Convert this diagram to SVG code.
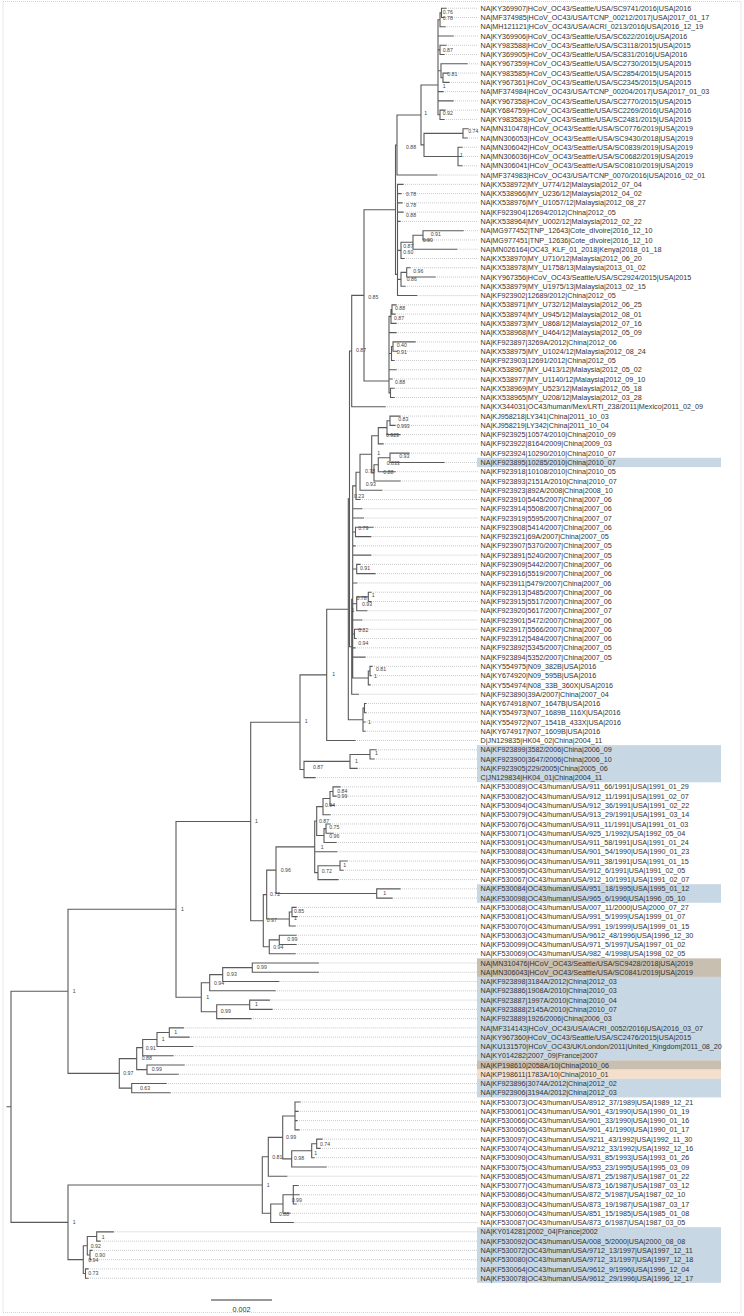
<svg xmlns="http://www.w3.org/2000/svg" width="744" height="1316" viewBox="0 0 744 1316">
<style>
.b{fill:none;stroke:#5a5a5a;stroke-width:1.1;stroke-linecap:square}
.d{fill:none;stroke:#b4b4b4;stroke-width:0.7;stroke-dasharray:1 1}
.t{font-family:"Liberation Sans",Arial,sans-serif;font-size:7.2px;fill:#333}
.s{font-family:"Liberation Sans",Arial,sans-serif;font-size:5.2px;fill:#444}
.hb{fill:#c7d7e3}.hr{fill:#c8bfb1}.hp{fill:#f3dfcc}
</style>
<rect x="3" y="1.5" width="738" height="1311" fill="#fff" stroke="#c8c8c8" stroke-width="0.8" stroke-dasharray="1 1"/>
<g id="highlights">
<rect class="hb" x="477" y="457.8" width="244" height="9.27"/>
<rect class="hb" x="477" y="745.17" width="244" height="37.08"/>
<rect class="hb" x="477" y="884.22" width="244" height="18.54"/>
<rect class="hr" x="477" y="958.38" width="244" height="18.54"/>
<rect class="hb" x="477" y="976.92" width="244" height="83.43"/>
<rect class="hr" x="477" y="1060.35" width="244" height="9.27"/>
<rect class="hp" x="477" y="1069.62" width="244" height="9.27"/>
<rect class="hb" x="477" y="1078.89" width="244" height="18.54"/>
<rect class="hb" x="477" y="1227.21" width="244" height="55.62"/>
</g>
<g id="connectors">
<path class="d" d="M446 8.2H478M444 17.47H478M445 26.74H478M453 36.01H478M446 45.28H478M444 54.55H478M467 63.82H478M448 73.09H478M449 82.36H478M443 91.63H478M453 100.9H478M445 110.17H478M444 119.44H478M468 128.71H478M467 137.98H478M462 147.25H478M461 156.52H478M462 165.79H478M436.7 175.06H478M403 184.33H478M401 193.6H478M402 202.87H478M403 212.14H478M400 221.41H478M463 230.68H478M430 239.95H478M456.7 249.22H478M404 258.49H478M410 267.76H478M435 277.03H478M405 286.3H478M416.7 295.57H478M396 304.84H478M395 314.11H478M396 323.38H478M396 332.65H478M415 341.92H478M397 351.19H478M394 360.46H478M396 369.73H478M392 379H478M394 388.27H478M394 397.54H478M385 406.81H478M400 416.08H478M395 425.35H478M400 434.62H478M383 443.89H478M409 453.16H478M444 462.43H478M395 471.7H478M400 480.97H478M381.7 490.24H478M360 499.51H478M361.7 508.78H478M363.3 518.05H478M373 527.32H478M370.7 536.59H478M355 545.86H478M370.7 555.13H478M360 564.4H478M375 573.67H478M356.7 582.94H478M371 592.21H478M371 601.48H478M366.7 610.75H478M361.7 620.02H478M361.7 629.29H478M356 638.56H478M355 647.83H478M365 657.1H478M372 666.37H478M371 675.64H478M370 684.91H478M358.3 694.18H478M366 703.45H478M366 712.72H478M365 721.99H478M365 731.26H478M355 740.53H478M376 749.8H478M374 759.07H478M357 768.34H478M315 777.61H478M340 786.88H478M336 796.15H478M334 805.42H478M330 814.69H478M330 823.96H478M333 833.23H478M336 842.5H478M336.7 851.77H478M347 861.04H478M343 870.31H478M338 879.58H478M400 888.85H478M392 898.12H478M296 907.39H478M297 916.66H478M295 925.93H478M296 935.2H478M296 944.47H478M295 953.74H478M318.3 963.01H478M318.3 972.28H478M278.7 981.55H478M275 990.82H478M269.3 1000.09H478M272 1009.36H478M251 1018.63H478M183.3 1027.9H478M189 1037.17H478M192.7 1046.44H478M173 1055.71H478M184 1064.98H478M178 1074.25H478M166 1083.52H478M170 1092.79H478M300 1102.06H478M298 1111.33H478M297 1120.6H478M299 1129.87H478M322 1139.14H478M320 1148.41H478M314 1157.68H478M326 1166.95H478M286.7 1176.22H478M298 1185.49H478M299 1194.76H478M296 1204.03H478M290 1213.3H478M293.3 1222.57H478M113.3 1231.84H478M100 1241.11H478M92 1250.38H478M91 1259.65H478M88 1268.92H478M88 1278.19H478"/>
<path class="b" d="M7 1106.8H11M11 991.3V1222.36M11 991.3H68M11 1222.36H68
M68 909.3V1073.39M68 909.3H176M68 1073.39H119.3
M68 1185.06V1259.65M68 1185.06H262.3M68 1259.65H83.3
M262.3 1156.81V1213.3M262.3 1156.81H268.3M262.3 1213.3H270.7
M268.3 1137.4V1176.22M268.3 1137.4H282.7M268.3 1176.22H286.7
M282.7 1115.97V1158.84M282.7 1115.97H295M282.7 1158.84H291.7
M295 1102.06V1129.87M295 1102.06H300M295 1111.33H298M295 1120.6H297M295 1129.87H299
M291.7 1150.73V1166.95M291.7 1150.73H311.7M291.7 1166.95H326
M311.7 1143.78V1157.68M311.7 1143.78H316.7M311.7 1157.68H314
M316.7 1139.14V1148.41M316.7 1139.14H322M316.7 1148.41H320
M270.7 1204.03V1222.57M270.7 1204.03H283M270.7 1222.57H293.3
M283 1194.76V1213.3M283 1194.76H293.3M283 1213.3H290
M293.3 1185.49V1204.03M293.3 1185.49H298M293.3 1194.76H299M293.3 1204.03H296
M83.3 1245.74V1273.56M83.3 1245.74H87.3M83.3 1273.56H85.5
M87.3 1236.48V1255M87.3 1236.48H96.7M87.3 1255H90
M96.7 1231.84V1241.11M96.7 1231.84H113.3M96.7 1241.11H100
M90 1250.38V1259.65M90 1250.38H92M90 1259.65H91
M85.5 1268.92V1278.19M85.5 1268.92H88M85.5 1278.19H88
M119.3 1058.61V1088.16M119.3 1058.61H136.7M119.3 1088.16H131.7
M131.7 1083.52V1092.79M131.7 1083.52H166M131.7 1092.79H170
M136.7 1047.6V1069.62M136.7 1047.6H142.7M136.7 1069.62H147
M147 1064.98V1074.25M147 1064.98H184M147 1074.25H178
M142.7 1039.49V1055.71M142.7 1039.49H157M142.7 1055.71H173
M157 1032.54V1046.44M157 1032.54H169.3M157 1046.44H192.7
M169.3 1027.9V1037.17M169.3 1027.9H183.3M169.3 1037.17H189
M176 821.45V997.2M176 821.45H250.7M176 997.2H201.3
M201.3 982.71V1011.68M201.3 982.71H209.7M201.3 1011.68H216.7
M209.7 974.6V990.82M209.7 974.6H222.7M209.7 990.82H275
M222.7 967.65V981.55M222.7 967.65H252.3M222.7 981.55H278.7
M252.3 963.01V972.28M252.3 963.01H318.3M252.3 972.28H318.3
M216.7 1004.73V1018.63M216.7 1004.73H249.7M216.7 1018.63H251
M249.7 1000.09V1009.36M249.7 1000.09H269.3M249.7 1009.36H272
M250.7 722.2V920.69M250.7 722.2H300M250.7 920.69H263.3
M263.3 894.58V946.79M263.3 894.58H266.7M263.3 946.79H269.3
M266.7 870.17V918.98M266.7 870.17H276M266.7 918.98H289.3
M276 846.85V893.49M276 846.85H314.7M276 893.49H376.7
M376.7 888.85V898.12M376.7 888.85H400M376.7 898.12H392
M314.7 821.07V872.63M314.7 821.07H316.7M314.7 851.77H336.7M314.7 872.63H318
M316.7 806.58V835.55M316.7 806.58H323M316.7 835.55H324
M323 798.47V814.69M323 798.47H330M323 814.69H330
M330 791.52V805.42M330 791.52H333M330 805.42H334
M333 786.88V796.15M333 786.88H340M333 796.15H336
M324 828.6V842.5M324 828.6H326M324 842.5H336
M326 823.96V833.23M326 823.96H330M326 833.23H333
M318 865.68V879.58M318 865.68H340M318 879.58H338
M340 861.04V870.31M340 861.04H347M340 870.31H343
M289.3 912.03V925.93M289.3 912.03H292M289.3 925.93H295
M292 907.39V916.66M292 907.39H296M292 916.66H297
M269.3 939.84V953.74M269.3 939.84H279.3M269.3 953.74H295
M279.3 935.2V944.47M279.3 935.2H296M279.3 944.47H296
M300 674.9V769.5M300 674.9H326.7M300 769.5H304
M304 761.39V777.61M304 761.39H350M304 777.61H315
M350 754.44V768.34M350 754.44H370M350 768.34H357
M370 749.8V759.07M370 749.8H376M370 759.07H374
M326.7 609.3V740.53M326.7 609.3H348.3M326.7 740.53H355
M348.3 498.85V719.7M348.3 498.85H349.5M348.3 719.7H363
M363 708.09V731.26M363 708.09H364.5M363 721.99H365M363 731.26H365
M364.5 703.45V712.72M364.5 703.45H366M364.5 712.72H366
M349.5 351V646.7M349.5 351H351.7M349.5 646.7H351.7
M351.7 599.3V694.18M351.7 599.3H352.7M351.7 694.18H358.3
M352.7 485.9V678M352.7 485.9H356M352.7 508.78H361.7M352.7 518.05H363.3M352.7 531.95H355.5M352.7 545.86H355M352.7 555.13H370.7M352.7 569.04H356.7M352.7 582.94H356.7M352.7 603.8H356.7M352.7 620.02H361.7M352.7 633.93H354.5M352.7 647.83H355M352.7 657.1H365M352.7 678H368.3
M355.5 527.32V536.59M355.5 527.32H373M355.5 536.59H370.7
M356.7 564.4V573.67M356.7 564.4H360M356.7 573.67H375
M356.7 596.85V610.75M356.7 596.85H368.3M356.7 610.75H366.7
M368.3 592.21V601.48M368.3 592.21H371M368.3 601.48H371
M354.5 629.29V638.56M354.5 629.29H361.7M354.5 638.56H356
M368.3 671V684.91M368.3 671H370M368.3 684.91H370
M370 666.37V675.64M370 666.37H372M370 675.64H371
M356 472.28V499.51M356 472.28H360M356 499.51H360
M360 454.32V490.24M360 454.32H371.7M360 490.24H381.7
M371.7 435.78V472.86M371.7 435.78H378.3M371.7 472.86H374
M378.3 427.67V443.89M378.3 427.67H387M378.3 443.89H383
M387 420.72V434.62M387 420.72H390M387 434.62H400
M390 416.08V425.35M390 416.08H400M390 425.35H395
M374 464.75V480.97M374 464.75H378.3M374 480.97H400
M378.3 457.8V471.7M378.3 457.8H390M378.3 471.7H395
M390 453.16V462.43M390 453.16H409M390 462.43H444
M351.7 295.35V406.81M351.7 295.35H364M351.7 406.81H385
M364 209.7V381M364 209.7H395.5M364 381H389
M389 316.4V392.9M389 316.4H391M389 332.65H396M389 353.5H391.5M389 369.73H396M389 379H392M389 392.9H390.5
M391 309.48V323.38M391 309.48H392M391 323.38H396
M392 304.84V314.11M392 304.84H396M392 314.11H395
M391.5 346.55V360.46M391.5 346.55H393M391.5 360.46H394
M393 341.92V351.19M393 341.92H415M393 351.19H397
M390.5 388.27V397.54M390.5 388.27H394M390.5 397.54H394
M395.5 145V274.4M395.5 145H397M395.5 274.4H397.5
M397 115V175.06M397 115H421M397 175.06H436.7
M397.5 184.33V295.57M397.5 184.33H403M397.5 193.6H401M397.5 202.87H402M397.5 212.14H403M397.5 221.41H400M397.5 250.4H401M397.5 279.35H401M397.5 295.57H416.7
M401 242.3V258.49M401 242.3H413M401 258.49H404
M413 235.3V249.22M413 235.3H423M413 249.22H456.7
M423 230.68V239.95M423 230.68H463M423 239.95H430
M401 272.4V286.3M401 272.4H406.7M401 286.3H405
M406.7 267.76V277.03M406.7 267.76H410M406.7 277.03H435
M421 85V144.9M421 85H438M421 144.9H424
M424 133.33V156.52M424 133.33H463M424 156.52H458
M463 128.71V137.98M463 128.71H468M463 137.98H467
M458 147.25V165.79M458 147.25H462M458 156.52H461M458 165.79H462
M438 19.8V114.8M438 19.8H440M438 36.01H453M438 49.9H440M438 70.8H441M438 91.63H443M438 100.9H453M438 114.8H440
M440 12.84V26.74M440 12.84H441.5M440 26.74H445
M441.5 8.2V17.47M441.5 8.2H446M441.5 17.47H444
M440 45.28V54.55M440 45.28H446M440 54.55H444
M441 63.82V77.7M441 63.82H467M441 77.7H443
M443 73.09V82.36M443 73.09H448M443 82.36H449
M440 110.17V119.44M440 110.17H445M440 119.44H444"/>
</g>
<g id="support">
<text class="s" x="442.7" y="14.2">0.76</text><text class="s" x="442.7" y="20.2">0.78</text><text class="s" x="442.7" y="51.9">0.87</text><text class="s" x="447.3" y="75.9">0.81</text><text class="s" x="442.7" y="87.9">1</text><text class="s" x="442.7" y="115.2">0.92</text><text class="s" x="424.3" y="114.5">1</text><text class="s" x="468.3" y="133.2">0.74</text><text class="s" x="460" y="157.2">1</text><text class="s" x="406" y="148.9">0.88</text>
<text class="s" x="406" y="195.9">0.78</text><text class="s" x="406" y="206.6">0.78</text><text class="s" x="406" y="217.2">0.88</text><text class="s" x="430.7" y="235.9">0.91</text><text class="s" x="422.7" y="242.2">0.99</text><text class="s" x="403.3" y="247.9">0.87</text><text class="s" x="403.3" y="253.9">0.60</text><text class="s" x="413.3" y="272.9">0.96</text><text class="s" x="406.7" y="280.6">0.86</text><text class="s" x="368.3" y="298.6">0.85</text>
<text class="s" x="395" y="310.2">0.88</text><text class="s" x="394" y="319.6">0.87</text><text class="s" x="396.7" y="346.9">0.40</text><text class="s" x="396.7" y="353.6">0.91</text><text class="s" x="356" y="352.2">0.87</text><text class="s" x="395" y="383.9">0.88</text>
<text class="s" x="398.3" y="420.9">0.83</text><text class="s" x="396.7" y="428.2">0.993</text><text class="s" x="386" y="436.6">0.923</text><text class="s" x="377.3" y="454.9">1</text><text class="s" x="399.3" y="457.6">0.93</text><text class="s" x="386.7" y="465.2">0.833</text><text class="s" x="365" y="473.2">0.78</text><text class="s" x="383.3" y="474.2">0.88</text><text class="s" x="365.7" y="485.9">0.93</text><text class="s" x="354" y="497.6">0.23</text>
<text class="s" x="358.3" y="529.9">0.79</text><text class="s" x="360" y="569.6">0.91</text><text class="s" x="371.7" y="596.6">1</text><text class="s" x="356.5" y="600">0.78</text><text class="s" x="362" y="606.3">0.93</text><text class="s" x="351.5" y="612">1</text><text class="s" x="358.3" y="632.2">0.82</text><text class="s" x="358.3" y="644.6">0.94</text><text class="s" x="376" y="671.2">0.81</text><text class="s" x="374" y="677.9">1</text>
<text class="s" x="332.3" y="676.2">1</text><text class="s" x="304.7" y="722.9">1</text><text class="s" x="368" y="723.6">1</text><text class="s" x="375" y="754.9">1</text><text class="s" x="355" y="762.6">1</text><text class="s" x="313" y="768.6">0.87</text>
<text class="s" x="337.3" y="792.6">0.84</text><text class="s" x="337.3" y="798.2">0.99</text><text class="s" x="325" y="806.6">0.94</text><text class="s" x="319" y="822.6">0.87</text><text class="s" x="329.3" y="829.2">0.75</text><text class="s" x="329.3" y="838.2">0.96</text><text class="s" x="320.7" y="848.9">1</text><text class="s" x="343.3" y="866.6">1</text><text class="s" x="321.7" y="873.2">0.72</text>
<text class="s" x="255" y="822.9">1</text><text class="s" x="280.7" y="871.9">0.96</text><text class="s" x="383.3" y="894.9">1</text><text class="s" x="270" y="895.9">0.72</text><text class="s" x="294" y="912.6">0.85</text><text class="s" x="294" y="920.2">1</text><text class="s" x="266.7" y="921.9">0.97</text><text class="s" x="287.3" y="941.2">0.99</text><text class="s" x="273.3" y="948.6">0.94</text>
<text class="s" x="256.7" y="968.6">0.99</text><text class="s" x="226.7" y="975.9">0.93</text><text class="s" x="214" y="984.6">0.94</text><text class="s" x="206.3" y="998.9">1</text><text class="s" x="255" y="1005.9">1</text><text class="s" x="220.7" y="1012.9">0.99</text><text class="s" x="181" y="910.9">1</text><text class="s" x="72.7" y="992.9">1</text>
<text class="s" x="174.3" y="1034.2">1</text><text class="s" x="161.7" y="1040.9">1</text><text class="s" x="145.7" y="1049.6">0.91</text><text class="s" x="141.7" y="1060.2">0.88</text><text class="s" x="151.7" y="1071.2">0.99</text><text class="s" x="123.3" y="1075.2">0.97</text><text class="s" x="140" y="1089.6">0.63</text>
<text class="s" x="286" y="1138.6">0.99</text><text class="s" x="320" y="1145.7">0.74</text><text class="s" x="314.3" y="1155.2">1</text><text class="s" x="272.3" y="1158.6">0.81</text><text class="s" x="294" y="1160.4">0.98</text><text class="s" x="266.7" y="1186.9">1</text><text class="s" x="291.7" y="1201.9">0.99</text><text class="s" x="279" y="1215.9">0.88</text>
<text class="s" x="72.7" y="1223.9">1</text><text class="s" x="101.7" y="1238.6">1</text><text class="s" x="90.7" y="1247.6">0.92</text><text class="s" x="95" y="1256.9">0.90</text><text class="s" x="88.3" y="1261.9">0.94</text><text class="s" x="88.3" y="1275.2">0.73</text>
</g>
<g id="leaves">
<g id="leaf-1"><text class="t" x="480.5" y="10.8">NA|KY369907|HCoV_OC43/Seattle/USA/SC9741/2016|USA|2016</text></g>
<g id="leaf-2"><text class="t" x="480.5" y="20.07">NA|MF374985|HCoV_OC43/USA/TCNP_00212/2017|USA|2017_01_17</text></g>
<g id="leaf-3"><text class="t" x="480.5" y="29.34">NA|MH121121|HCoV_OC43/USA/ACRI_0213/2016|USA|2016_12_19</text></g>
<g id="leaf-4"><text class="t" x="480.5" y="38.61">NA|KY369906|HCoV_OC43/Seattle/USA/SC622/2016|USA|2016</text></g>
<g id="leaf-5"><text class="t" x="480.5" y="47.88">NA|KY983588|HCoV_OC43/Seattle/USA/SC3118/2015|USA|2015</text></g>
<g id="leaf-6"><text class="t" x="480.5" y="57.15">NA|KY369905|HCoV_OC43/Seattle/USA/SC831/2016|USA|2016</text></g>
<g id="leaf-7"><text class="t" x="480.5" y="66.42">NA|KY967359|HCoV_OC43/Seattle/USA/SC2730/2015|USA|2015</text></g>
<g id="leaf-8"><text class="t" x="480.5" y="75.69">NA|KY983585|HCoV_OC43/Seattle/USA/SC2854/2015|USA|2015</text></g>
<g id="leaf-9"><text class="t" x="480.5" y="84.96">NA|KY967361|HCoV_OC43/Seattle/USA/SC2345/2015|USA|2015</text></g>
<g id="leaf-10"><text class="t" x="480.5" y="94.23">NA|MF374984|HCoV_OC43/USA/TCNP_00204/2017|USA|2017_01_03</text></g>
<g id="leaf-11"><text class="t" x="480.5" y="103.5">NA|KY967358|HCoV_OC43/Seattle/USA/SC2770/2015|USA|2015</text></g>
<g id="leaf-12"><text class="t" x="480.5" y="112.77">NA|KY684759|HCoV_OC43/Seattle/USA/SC2269/2016|USA|2016</text></g>
<g id="leaf-13"><text class="t" x="480.5" y="122.04">NA|KY983583|HCoV_OC43/Seattle/USA/SC2481/2015|USA|2015</text></g>
<g id="leaf-14"><text class="t" x="480.5" y="131.31">NA|MN310478|HCoV_OC43/Seattle/USA/SC0776/2019|USA|2019</text></g>
<g id="leaf-15"><text class="t" x="480.5" y="140.58">NA|MN306053|HCoV_OC43/Seattle/USA/SC9430/2018|USA|2019</text></g>
<g id="leaf-16"><text class="t" x="480.5" y="149.85">NA|MN306042|HCoV_OC43/Seattle/USA/SC0839/2019|USA|2019</text></g>
<g id="leaf-17"><text class="t" x="480.5" y="159.12">NA|MN306036|HCoV_OC43/Seattle/USA/SC0682/2019|USA|2019</text></g>
<g id="leaf-18"><text class="t" x="480.5" y="168.39">NA|MN306041|HCoV_OC43/Seattle/USA/SC0810/2019|USA|2019</text></g>
<g id="leaf-19"><text class="t" x="480.5" y="177.66">NA|MF374983|HCoV_OC43/USA/TCNP_0070/2016|USA|2016_02_01</text></g>
<g id="leaf-20"><text class="t" x="480.5" y="186.93">NA|KX538972|MY_U774/12|Malaysia|2012_07_04</text></g>
<g id="leaf-21"><text class="t" x="480.5" y="196.2">NA|KX538966|MY_U236/12|Malaysia|2012_04_02</text></g>
<g id="leaf-22"><text class="t" x="480.5" y="205.47">NA|KX538976|MY_U1057/12|Malaysia|2012_08_27</text></g>
<g id="leaf-23"><text class="t" x="480.5" y="214.74">NA|KF923904|12694/2012|China|2012_05</text></g>
<g id="leaf-24"><text class="t" x="480.5" y="224.01">NA|KX538964|MY_U002/12|Malaysia|2012_02_22</text></g>
<g id="leaf-25"><text class="t" x="480.5" y="233.28">NA|MG977452|TNP_12643|Cote_dIvoire|2016_12_10</text></g>
<g id="leaf-26"><text class="t" x="480.5" y="242.55">NA|MG977451|TNP_12636|Cote_dIvoire|2016_12_10</text></g>
<g id="leaf-27"><text class="t" x="480.5" y="251.82">NA|MN026164|OC43_KLF_01_2018|Kenya|2018_01_18</text></g>
<g id="leaf-28"><text class="t" x="480.5" y="261.09">NA|KX538970|MY_U710/12|Malaysia|2012_06_20</text></g>
<g id="leaf-29"><text class="t" x="480.5" y="270.36">NA|KX538978|MY_U1758/13|Malaysia|2013_01_02</text></g>
<g id="leaf-30"><text class="t" x="480.5" y="279.63">NA|KY967356|HCoV_OC43/Seattle/USA/SC2924/2015|USA|2015</text></g>
<g id="leaf-31"><text class="t" x="480.5" y="288.9">NA|KX538979|MY_U1975/13|Malaysia|2013_02_15</text></g>
<g id="leaf-32"><text class="t" x="480.5" y="298.17">NA|KF923902|12689/2012|China|2012_05</text></g>
<g id="leaf-33"><text class="t" x="480.5" y="307.44">NA|KX538971|MY_U732/12|Malaysia|2012_06_25</text></g>
<g id="leaf-34"><text class="t" x="480.5" y="316.71">NA|KX538974|MY_U945/12|Malaysia|2012_08_01</text></g>
<g id="leaf-35"><text class="t" x="480.5" y="325.98">NA|KX538973|MY_U868/12|Malaysia|2012_07_16</text></g>
<g id="leaf-36"><text class="t" x="480.5" y="335.25">NA|KX538968|MY_U464/12|Malaysia|2012_05_09</text></g>
<g id="leaf-37"><text class="t" x="480.5" y="344.52">NA|KF923897|3269A/2012|China|2012_06</text></g>
<g id="leaf-38"><text class="t" x="480.5" y="353.79">NA|KX538975|MY_U1024/12|Malaysia|2012_08_24</text></g>
<g id="leaf-39"><text class="t" x="480.5" y="363.06">NA|KF923903|12691/2012|China|2012_05</text></g>
<g id="leaf-40"><text class="t" x="480.5" y="372.33">NA|KX538967|MY_U413/12|Malaysia|2012_05_02</text></g>
<g id="leaf-41"><text class="t" x="480.5" y="381.6">NA|KX538977|MY_U1140/12|Malaysia|2012_09_10</text></g>
<g id="leaf-42"><text class="t" x="480.5" y="390.87">NA|KX538969|MY_U523/12|Malaysia|2012_05_18</text></g>
<g id="leaf-43"><text class="t" x="480.5" y="400.14">NA|KX538965|MY_U208/12|Malaysia|2012_03_28</text></g>
<g id="leaf-44"><text class="t" x="480.5" y="409.41">NA|KX344031|OC43/human/Mex/LRTI_238/2011|Mexico|2011_02_09</text></g>
<g id="leaf-45"><text class="t" x="480.5" y="418.68">NA|KJ958218|LY341|China|2011_10_03</text></g>
<g id="leaf-46"><text class="t" x="480.5" y="427.95">NA|KJ958219|LY342|China|2011_10_04</text></g>
<g id="leaf-47"><text class="t" x="480.5" y="437.22">NA|KF923925|10574/2010|China|2010_09</text></g>
<g id="leaf-48"><text class="t" x="480.5" y="446.49">NA|KF923922|8164/2009|China|2009_03</text></g>
<g id="leaf-49"><text class="t" x="480.5" y="455.76">NA|KF923924|10290/2010|China|2010_07</text></g>
<g id="leaf-50"><text class="t" x="480.5" y="465.03">NA|KF923895|10285/2010|China|2010_07</text></g>
<g id="leaf-51"><text class="t" x="480.5" y="474.3">NA|KF923918|10108/2010|China|2010_05</text></g>
<g id="leaf-52"><text class="t" x="480.5" y="483.57">NA|KF923893|2151A/2010|China|2010_07</text></g>
<g id="leaf-53"><text class="t" x="480.5" y="492.84">NA|KF923923|892A/2008|China|2008_10</text></g>
<g id="leaf-54"><text class="t" x="480.5" y="502.11">NA|KF923910|5445/2007|China|2007_06</text></g>
<g id="leaf-55"><text class="t" x="480.5" y="511.38">NA|KF923914|5508/2007|China|2007_06</text></g>
<g id="leaf-56"><text class="t" x="480.5" y="520.65">NA|KF923919|5595/2007|China|2007_07</text></g>
<g id="leaf-57"><text class="t" x="480.5" y="529.92">NA|KF923908|5414/2007|China|2007_06</text></g>
<g id="leaf-58"><text class="t" x="480.5" y="539.19">NA|KF923921|69A/2007|China|2007_05</text></g>
<g id="leaf-59"><text class="t" x="480.5" y="548.46">NA|KF923907|5370/2007|China|2007_05</text></g>
<g id="leaf-60"><text class="t" x="480.5" y="557.73">NA|KF923891|5240/2007|China|2007_05</text></g>
<g id="leaf-61"><text class="t" x="480.5" y="567">NA|KF923909|5442/2007|China|2007_06</text></g>
<g id="leaf-62"><text class="t" x="480.5" y="576.27">NA|KF923916|5519/2007|China|2007_06</text></g>
<g id="leaf-63"><text class="t" x="480.5" y="585.54">NA|KF923911|5479/2007|China|2007_06</text></g>
<g id="leaf-64"><text class="t" x="480.5" y="594.81">NA|KF923913|5485/2007|China|2007_06</text></g>
<g id="leaf-65"><text class="t" x="480.5" y="604.08">NA|KF923915|5517/2007|China|2007_06</text></g>
<g id="leaf-66"><text class="t" x="480.5" y="613.35">NA|KF923920|5617/2007|China|2007_07</text></g>
<g id="leaf-67"><text class="t" x="480.5" y="622.62">NA|KF923901|5472/2007|China|2007_06</text></g>
<g id="leaf-68"><text class="t" x="480.5" y="631.89">NA|KF923917|5566/2007|China|2007_06</text></g>
<g id="leaf-69"><text class="t" x="480.5" y="641.16">NA|KF923912|5484/2007|China|2007_06</text></g>
<g id="leaf-70"><text class="t" x="480.5" y="650.43">NA|KF923892|5345/2007|China|2007_05</text></g>
<g id="leaf-71"><text class="t" x="480.5" y="659.7">NA|KF923894|5352/2007|China|2007_05</text></g>
<g id="leaf-72"><text class="t" x="480.5" y="668.97">NA|KY554975|N09_382B|USA|2016</text></g>
<g id="leaf-73"><text class="t" x="480.5" y="678.24">NA|KY674920|N09_595B|USA|2016</text></g>
<g id="leaf-74"><text class="t" x="480.5" y="687.51">NA|KY554974|N08_33B_360X|USA|2016</text></g>
<g id="leaf-75"><text class="t" x="480.5" y="696.78">NA|KF923890|39A/2007|China|2007_04</text></g>
<g id="leaf-76"><text class="t" x="480.5" y="706.05">NA|KY674918|N07_1647B|USA|2016</text></g>
<g id="leaf-77"><text class="t" x="480.5" y="715.32">NA|KY554973|N07_1689B_116X|USA|2016</text></g>
<g id="leaf-78"><text class="t" x="480.5" y="724.59">NA|KY554972|N07_1541B_433X|USA|2016</text></g>
<g id="leaf-79"><text class="t" x="480.5" y="733.86">NA|KY674917|N07_1609B|USA|2016</text></g>
<g id="leaf-80"><text class="t" x="480.5" y="743.13">D|JN129835|HK04_02|China|2004_11</text></g>
<g id="leaf-81"><text class="t" x="480.5" y="752.4">NA|KF923899|3582/2006|China|2006_09</text></g>
<g id="leaf-82"><text class="t" x="480.5" y="761.67">NA|KF923900|3647/2006|China|2006_10</text></g>
<g id="leaf-83"><text class="t" x="480.5" y="770.94">NA|KF923905|229/2005|China|2005_06</text></g>
<g id="leaf-84"><text class="t" x="480.5" y="780.21">C|JN129834|HK04_01|China|2004_11</text></g>
<g id="leaf-85"><text class="t" x="480.5" y="789.48">NA|KF530089|OC43/human/USA/911_66/1991|USA|1991_01_29</text></g>
<g id="leaf-86"><text class="t" x="480.5" y="798.75">NA|KF530082|OC43/human/USA/912_11/1991|USA|1991_02_07</text></g>
<g id="leaf-87"><text class="t" x="480.5" y="808.02">NA|KF530094|OC43/human/USA/912_36/1991|USA|1991_02_22</text></g>
<g id="leaf-88"><text class="t" x="480.5" y="817.29">NA|KF530079|OC43/human/USA/913_29/1991|USA|1991_03_14</text></g>
<g id="leaf-89"><text class="t" x="480.5" y="826.56">NA|KF530076|OC43/human/USA/911_11/1991|USA|1991_01_03</text></g>
<g id="leaf-90"><text class="t" x="480.5" y="835.83">NA|KF530071|OC43/human/USA/925_1/1992|USA|1992_05_04</text></g>
<g id="leaf-91"><text class="t" x="480.5" y="845.1">NA|KF530091|OC43/human/USA/911_58/1991|USA|1991_01_24</text></g>
<g id="leaf-92"><text class="t" x="480.5" y="854.37">NA|KF530088|OC43/human/USA/901_54/1990|USA|1990_01_23</text></g>
<g id="leaf-93"><text class="t" x="480.5" y="863.64">NA|KF530096|OC43/human/USA/911_38/1991|USA|1991_01_15</text></g>
<g id="leaf-94"><text class="t" x="480.5" y="872.91">NA|KF530095|OC43/human/USA/912_6/1991|USA|1991_02_05</text></g>
<g id="leaf-95"><text class="t" x="480.5" y="882.18">NA|KF530067|OC43/human/USA/912_10/1991|USA|1991_02_07</text></g>
<g id="leaf-96"><text class="t" x="480.5" y="891.45">NA|KF530084|OC43/human/USA/951_18/1995|USA|1995_01_12</text></g>
<g id="leaf-97"><text class="t" x="480.5" y="900.72">NA|KF530098|OC43/human/USA/965_6/1996|USA|1996_05_10</text></g>
<g id="leaf-98"><text class="t" x="480.5" y="909.99">NA|KF530068|OC43/human/USA/007_11/2000|USA|2000_07_27</text></g>
<g id="leaf-99"><text class="t" x="480.5" y="919.26">NA|KF530081|OC43/human/USA/991_5/1999|USA|1999_01_07</text></g>
<g id="leaf-100"><text class="t" x="480.5" y="928.53">NA|KF530070|OC43/human/USA/991_19/1999|USA|1999_01_15</text></g>
<g id="leaf-101"><text class="t" x="480.5" y="937.8">NA|KF530063|OC43/human/USA/9612_48/1996|USA|1996_12_30</text></g>
<g id="leaf-102"><text class="t" x="480.5" y="947.07">NA|KF530099|OC43/human/USA/971_5/1997|USA|1997_01_02</text></g>
<g id="leaf-103"><text class="t" x="480.5" y="956.34">NA|KF530069|OC43/human/USA/982_4/1998|USA|1998_02_05</text></g>
<g id="leaf-104"><text class="t" x="480.5" y="965.61">NA|MN310476|HCoV_OC43/Seattle/USA/SC9428/2018|USA|2019</text></g>
<g id="leaf-105"><text class="t" x="480.5" y="974.88">NA|MN306043|HCoV_OC43/Seattle/USA/SC0841/2019|USA|2019</text></g>
<g id="leaf-106"><text class="t" x="480.5" y="984.15">NA|KF923898|3184A/2012|China|2012_03</text></g>
<g id="leaf-107"><text class="t" x="480.5" y="993.42">NA|KF923886|1908A/2010|China|2010_03</text></g>
<g id="leaf-108"><text class="t" x="480.5" y="1002.69">NA|KF923887|1997A/2010|China|2010_04</text></g>
<g id="leaf-109"><text class="t" x="480.5" y="1011.96">NA|KF923888|2145A/2010|China|2010_07</text></g>
<g id="leaf-110"><text class="t" x="480.5" y="1021.23">NA|KF923889|1926/2006|China|2006_03</text></g>
<g id="leaf-111"><text class="t" x="480.5" y="1030.5">NA|MF314143|HCoV_OC43/USA/ACRI_0052/2016|USA|2016_03_07</text></g>
<g id="leaf-112"><text class="t" x="480.5" y="1039.77">NA|KY967360|HCoV_OC43/Seattle/USA/SC2476/2015|USA|2015</text></g>
<g id="leaf-113"><text class="t" x="480.5" y="1049.04">NA|KU131570|HCoV_OC43/UK/London/2011|United_Kingdom|2011_08_20</text></g>
<g id="leaf-114"><text class="t" x="480.5" y="1058.31">NA|KY014282|2007_09|France|2007</text></g>
<g id="leaf-115"><text class="t" x="480.5" y="1067.58">NA|KP198610|2058A/10|China|2010_06</text></g>
<g id="leaf-116"><text class="t" x="480.5" y="1076.85">NA|KP198611|1783A/10|China|2010_01</text></g>
<g id="leaf-117"><text class="t" x="480.5" y="1086.12">NA|KF923896|3074A/2012|China|2012_02</text></g>
<g id="leaf-118"><text class="t" x="480.5" y="1095.39">NA|KF923906|3194A/2012|China|2012_03</text></g>
<g id="leaf-119"><text class="t" x="480.5" y="1104.66">NA|KF530073|OC43/human/USA/8912_37/1989|USA|1989_12_21</text></g>
<g id="leaf-120"><text class="t" x="480.5" y="1113.93">NA|KF530061|OC43/human/USA/901_43/1990|USA|1990_01_19</text></g>
<g id="leaf-121"><text class="t" x="480.5" y="1123.2">NA|KF530066|OC43/human/USA/901_33/1990|USA|1990_01_16</text></g>
<g id="leaf-122"><text class="t" x="480.5" y="1132.47">NA|KF530065|OC43/human/USA/901_41/1990|USA|1990_01_17</text></g>
<g id="leaf-123"><text class="t" x="480.5" y="1141.74">NA|KF530097|OC43/human/USA/9211_43/1992|USA|1992_11_30</text></g>
<g id="leaf-124"><text class="t" x="480.5" y="1151.01">NA|KF530074|OC43/human/USA/9212_33/1992|USA|1992_12_16</text></g>
<g id="leaf-125"><text class="t" x="480.5" y="1160.28">NA|KF530090|OC43/human/USA/931_85/1993|USA|1993_01_26</text></g>
<g id="leaf-126"><text class="t" x="480.5" y="1169.55">NA|KF530075|OC43/human/USA/953_23/1995|USA|1995_03_09</text></g>
<g id="leaf-127"><text class="t" x="480.5" y="1178.82">NA|KF530085|OC43/human/USA/871_25/1987|USA|1987_01_22</text></g>
<g id="leaf-128"><text class="t" x="480.5" y="1188.09">NA|KF530077|OC43/human/USA/873_16/1987|USA|1987_03_12</text></g>
<g id="leaf-129"><text class="t" x="480.5" y="1197.36">NA|KF530086|OC43/human/USA/872_5/1987|USA|1987_02_10</text></g>
<g id="leaf-130"><text class="t" x="480.5" y="1206.63">NA|KF530083|OC43/human/USA/873_19/1987|USA|1987_03_17</text></g>
<g id="leaf-131"><text class="t" x="480.5" y="1215.9">NA|KF530060|OC43/human/USA/851_15/1985|USA|1985_01_08</text></g>
<g id="leaf-132"><text class="t" x="480.5" y="1225.17">NA|KF530087|OC43/human/USA/873_6/1987|USA|1987_03_05</text></g>
<g id="leaf-133"><text class="t" x="480.5" y="1234.44">NA|KY014281|2002_04|France|2002</text></g>
<g id="leaf-134"><text class="t" x="480.5" y="1243.71">NA|KF530092|OC43/human/USA/008_5/2000|USA|2000_08_08</text></g>
<g id="leaf-135"><text class="t" x="480.5" y="1252.98">NA|KF530072|OC43/human/USA/9712_13/1997|USA|1997_12_11</text></g>
<g id="leaf-136"><text class="t" x="480.5" y="1262.25">NA|KF530080|OC43/human/USA/9712_31/1997|USA|1997_12_18</text></g>
<g id="leaf-137"><text class="t" x="480.5" y="1271.52">NA|KF530064|OC43/human/USA/9612_9/1996|USA|1996_12_04</text></g>
<g id="leaf-138"><text class="t" x="480.5" y="1280.79">NA|KF530078|OC43/human/USA/9612_29/1996|USA|1996_12_17</text></g>
</g>
<g id="scale">
<path d="M211 1300H272" stroke="#333" stroke-width="1"/>
<text class="t" x="241.5" y="1312" text-anchor="middle">0.002</text>
</g>
</svg>
